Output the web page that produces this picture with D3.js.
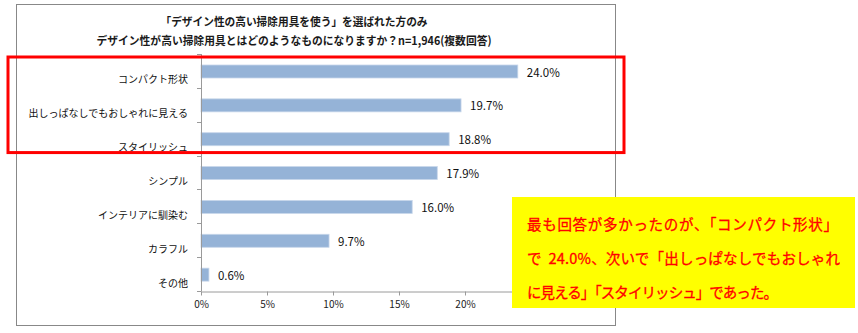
<!DOCTYPE html>
<html>
<head>
<meta charset="utf-8">
<script src="https://cdn.jsdelivr.net/npm/d3@7"></script>
<style>
  html, body { margin: 0; padding: 0; background: #fff; }
  svg { display: block; }
  .note-text { white-space: pre; }
</style>
</head>
<body>
<svg id="chart" width="858" height="333"></svg>
<script>
// Survey answers (multiple choice), share of respondents in %
const categories = [
  "コンパクト形状",
  "出しっぱなしでもおしゃれに見える",
  "スタイリッシュ",
  "シンプル",
  "インテリアに馴染む",
  "カラフル",
  "その他"
];
const values = [24.0, 19.7, 18.8, 17.9, 16.0, 9.7, 0.6];
const tickValues = [0, 5, 10, 15, 20, 25, 30];
const titleLines = [
  "「デザイン性の高い掃除用具を使う」を選ばれた方のみ",
  "デザイン性が高い掃除用具とはどのようなものになりますか？n=1,946(複数回答)"
];
const noteLines = [
  "最も回答が多かったのが、「コンパクト形状」",
  "で  24.0%、次いで「出しっぱなしでもおしゃれ",
  "に見える」「スタイリッシュ」であった。"
];
const highlighted = 3; // first three categories are boxed

const font = "'Noto Sans CJK JP', 'Noto Sans', sans-serif";
const svg = d3.select("#chart");

// Outer chart frame
svg.append("rect")
  .attr("x", 16.5).attr("y", 4.5).attr("width", 599).attr("height", 321)
  .attr("fill", "#fff").attr("stroke", "#888").attr("stroke-width", 1);

// Title (two centred lines, fitted to a compact width)
const titleWidths = [267, 395];
svg.append("g").selectAll("text").data(titleLines).join("text")
  .attr("x", 294).attr("y", (d, i) => 26 + i * 19)
  .attr("text-anchor", "middle")
  .attr("font-family", font).attr("font-size", 11.5).attr("font-weight", "bold")
  .attr("fill", "#1a1a1a")
  .attr("textLength", (d, i) => titleWidths[i])
  .attr("lengthAdjust", "spacingAndGlyphs")
  .text(d => d);

// Plot area
const plot = { left: 201, right: 597, top: 54, bottom: 291 };
const x = d3.scaleLinear().domain([0, 30]).range([plot.left, plot.right]);
const band = d3.scaleBand().domain(categories).range([plot.top, plot.bottom]);

// Bars
svg.append("g").selectAll("rect").data(values).join("rect")
  .attr("x", x(0))
  .attr("y", (d, i) => band(categories[i]) + 11)
  .attr("width", d => x(d) - x(0))
  .attr("height", 13)
  .attr("fill", "#95b3d7")
  .attr("stroke", "#c7d6ea").attr("stroke-width", 0.8);

// Value labels
svg.append("g").selectAll("text").data(values).join("text")
  .attr("x", d => x(d) + 9)
  .attr("y", (d, i) => band(categories[i]) + 17.5)
  .attr("dominant-baseline", "central")
  .attr("font-family", font).attr("font-size", 11.5)
  .attr("fill", "#111")
  .text(d => d.toFixed(1) + "%");

// Category axis
const yAxis = svg.append("g")
  .attr("transform", `translate(${plot.left},0)`);
yAxis.append("line")
  .attr("x1", 0.5).attr("x2", 0.5).attr("y1", plot.top).attr("y2", plot.bottom)
  .attr("stroke", "#9a9a9a");
yAxis.selectAll("line.tick").data(d3.range(categories.length + 1)).join("line")
  .attr("class", "tick")
  .attr("x1", -4).attr("x2", 0.5)
  .attr("y1", i => Math.round(plot.top + i * band.step()) + 0.5)
  .attr("y2", i => Math.round(plot.top + i * band.step()) + 0.5)
  .attr("stroke", "#9a9a9a");
yAxis.selectAll("text").data(categories).join("text")
  .attr("x", -13)
  .attr("y", d => band(d) + band.bandwidth() / 2 + 8)
  .attr("text-anchor", "end").attr("dominant-baseline", "central")
  .attr("font-family", font).attr("font-size", 10)
  .attr("fill", "#111")
  .text(d => d);

// Value axis
const xAxis = svg.append("g")
  .attr("transform", `translate(0,${plot.bottom + 0.5})`)
  .call(d3.axisBottom(x).tickValues(tickValues).tickFormat(d => d + "%").tickSize(4).tickSizeOuter(0));
xAxis.select(".domain").attr("stroke", "#9a9a9a");
xAxis.selectAll(".tick line").attr("stroke", "#9a9a9a");
xAxis.selectAll(".tick text")
  .attr("font-family", font).attr("font-size", 10)
  .attr("fill", "#222").attr("dy", "0.95em");

// Red highlight box around the top answers
svg.append("rect")
  .attr("x", 8).attr("y", 57)
  .attr("width", 616)
  .attr("height", band.step() * highlighted - 6)
  .attr("fill", "none").attr("stroke", "#ff0000").attr("stroke-width", 3);

// Yellow note box
const noteWidths = [311, 313, 251];
const note = svg.append("g");
note.append("rect")
  .attr("x", 512).attr("y", 197).attr("width", 343).attr("height", 111)
  .attr("fill", "#ffff00");
note.selectAll("text").data(noteLines).join("text")
  .attr("class", "note-text")
  .attr("x", 527).attr("y", (d, i) => 223 + i * 34)
  .attr("dominant-baseline", "central")
  .attr("font-family", font).attr("font-size", 14.5)
  .attr("fill", "#ff0000")
  .attr("stroke", "#ff0000").attr("stroke-width", 0.3)
  .attr("textLength", (d, i) => noteWidths[i])
  .attr("lengthAdjust", "spacing")
  .text(d => d);
</script>
</body>
</html>
